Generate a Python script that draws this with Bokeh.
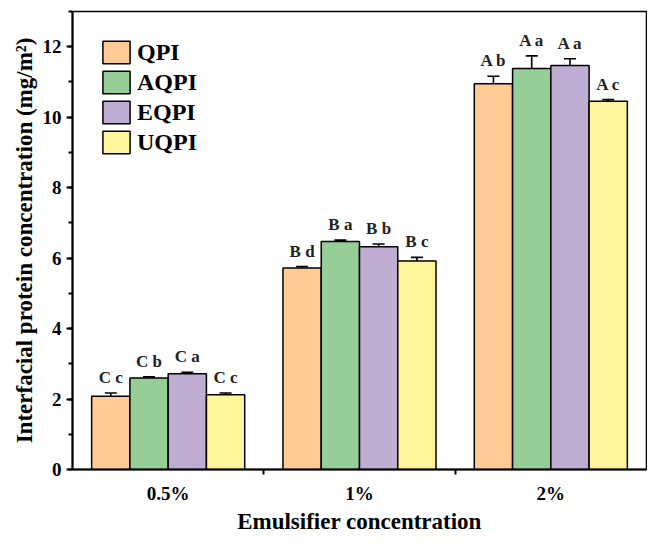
from bokeh.plotting import figure
from bokeh.models import (ColumnDataSource, Range1d, FixedTicker, SingleIntervalTicker,
                          Whisker, TeeHead, LabelSet, Legend, Title)
from bokeh.transform import dodge
from bokeh.embed import file_html
from bokeh.resources import INLINE

# ---- data ----
categories = ["0.5%", "1%", "2%"]
series = ["QPI", "AQPI", "EQPI", "UQPI"]
colors = ["#FFCA96", "#97CD97", "#BFADD3", "#FFF59B"]

qpi = [2.08, 5.72, 10.95]
aqpi = [2.60, 6.47, 11.38]
eqpi = [2.72, 6.32, 11.47]
uqpi = [2.12, 5.92, 10.45]

qpi_err = [0.09, 0.04, 0.21]
aqpi_err = [0.03, 0.04, 0.36]
eqpi_err = [0.04, 0.08, 0.19]
uqpi_err = [0.05, 0.10, 0.05]

qpi_lbl = ["C c", "B d", "A b"]
aqpi_lbl = ["C b", "B a", "A a"]
eqpi_lbl = ["C a", "B b", "A a"]
uqpi_lbl = ["C c", "B c", "A c"]

values = [qpi, aqpi, eqpi, uqpi]
errors = [qpi_err, aqpi_err, eqpi_err, uqpi_err]
letters = [qpi_lbl, aqpi_lbl, eqpi_lbl, uqpi_lbl]

y_ticks_interval = 2
x_title = "Emulsifier concentration"
y_title = "Interfacial protein concentration (mg/m²)"

FONT = "Liberation Serif"

p = figure(width=647, height=533, output_backend="svg", toolbar_location=None,
           x_range=Range1d(0.5, len(categories) + 0.5), y_range=Range1d(0, 13),
           min_border_left=72, min_border_right=1, min_border_top=11, min_border_bottom=58)

xi = list(range(1, len(categories) + 1))
offsets = [-0.3, -0.1, 0.1, 0.3]
legend_items = []
for s, vals, errs, lbls, col, off in zip(series, values, errors, letters, colors, offsets):
    src = ColumnDataSource(dict(
        xi=xi, top=vals,
        upper=[v + e for v, e in zip(vals, errs)],
        lower=[v - e for v, e in zip(vals, errs)],
        lbl=lbls,
    ))
    r = p.vbar(x=dodge("xi", off), top="top", bottom=0, width=0.2, source=src,
               fill_color=col, line_color="black", line_width=1.5)
    legend_items.append((s, [r]))
    w = Whisker(base=dodge("xi", off), upper="upper", lower="lower", source=src,
                dimension="height", line_color="black", line_width=1.6,
                upper_head=TeeHead(size=12, line_color="black", line_width=1.6),
                lower_head=TeeHead(size=12, line_color="black", line_width=1.6))
    p.add_layout(w)
    ls = LabelSet(x=dodge("xi", off), y="upper", text="lbl", source=src,
                  text_align="center", text_baseline="bottom", y_offset=6,
                  text_font=FONT, text_font_style="bold", text_font_size="17px",
                  text_color="#222222")
    p.add_layout(ls)

legend = Legend(items=legend_items, location="top_left", padding=0, margin=27,
                spacing=2, glyph_width=34, glyph_height=28, label_height=28,
                label_standoff=4, border_line_color=None, background_fill_alpha=0,
                label_text_font=FONT, label_text_font_style="bold",
                label_text_font_size="24px", label_text_color="black")
p.add_layout(legend)

# axes
p.xgrid.visible = False
p.ygrid.visible = False
p.outline_line_color = "black"
p.outline_line_width = 1.5
p.background_fill_color = "white"

xa = p.xaxis[0]
xa.ticker = FixedTicker(ticks=xi, minor_ticks=[1.5, 2.5])
xa.major_label_overrides = {i: c for i, c in zip(xi, categories)}
xa.major_tick_out = 0
xa.major_tick_in = 0
xa.minor_tick_out = 5
xa.minor_tick_in = 0
xa.minor_tick_line_width = 2
xa.minor_tick_line_color = "black"
xa.major_label_standoff = 8

# x-axis title as a Title in the below panel
xt = Title(text=x_title, align="center", standoff=0, offset=0,
           text_font=FONT, text_font_style="bold", text_font_size="23px",
           text_color="black")
p.add_layout(xt, "below")

ya = p.yaxis[0]
ya.ticker = SingleIntervalTicker(interval=y_ticks_interval, num_minor_ticks=2)
ya.major_tick_out = 6
ya.major_tick_in = 0
ya.minor_tick_out = 4
ya.minor_tick_in = 0
ya.major_tick_line_width = 2
ya.minor_tick_line_width = 2
ya.axis_label = y_title
ya.axis_label_standoff = 3
ya.major_label_standoff = 5

for ax in (xa, ya):
    ax.axis_line_width = 2
    ax.axis_line_color = "black"
    ax.major_label_text_font = FONT
    ax.major_label_text_font_style = "bold"
    ax.major_label_text_font_size = "19px"
    ax.major_label_text_color = "black"
    ax.axis_label_text_font = FONT
    ax.axis_label_text_font_style = "bold"
    ax.axis_label_text_font_size = "23px"
    ax.axis_label_text_color = "black"

xa.major_tick_line_color = None
ya.major_tick_line_color = "black"

open("out.html", "w").write(file_html(p, INLINE))
